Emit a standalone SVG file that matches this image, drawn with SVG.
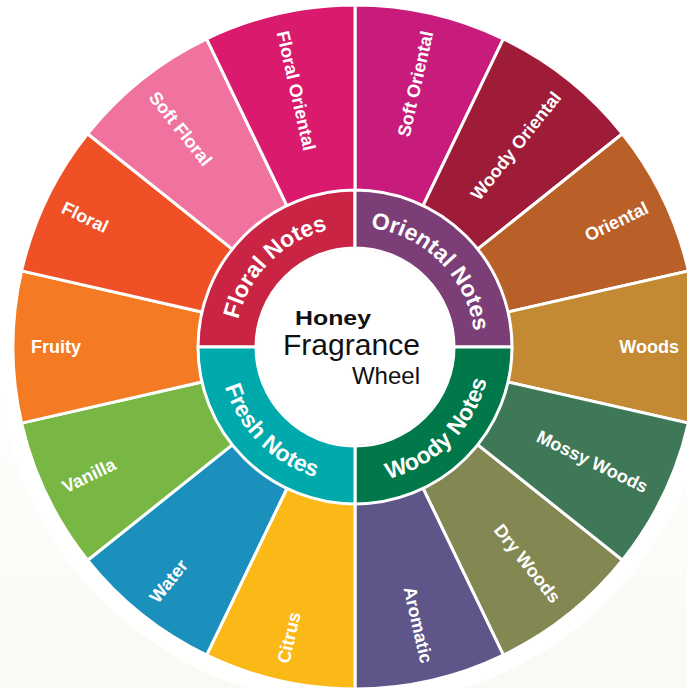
<svg xmlns="http://www.w3.org/2000/svg" width="687" height="688" viewBox="0 0 687 688">
  <defs>
    <linearGradient id="bg" x1="0" y1="0" x2="0" y2="1">
      <stop offset="0" stop-color="#ffffff"/>
      <stop offset="0.5" stop-color="#ffffff"/>
      <stop offset="1" stop-color="#fbf9f3"/>
    </linearGradient>
    <path id="pFloral" d="M235,347 A120,120 0 0 1 355,227"/>
    <path id="pOriental" d="M355,227 A120,120 0 0 1 475,347"/>
    <path id="pWoody" d="M355,483 A136,136 0 0 0 491,347"/>
    <path id="pFresh" d="M219,347 A136,136 0 0 0 355,483"/>
  </defs>
  <style>
    .seg { stroke: #ffffff; stroke-width: 3; stroke-linejoin: round; }
    .ring { stroke: #ffffff; stroke-width: 3; stroke-linejoin: round; }
    .lbl { font-family: "Liberation Sans", Arial, Helvetica, sans-serif; font-weight: bold; font-size: 18px; fill: #ffffff; }
    .note { font-family: "Liberation Sans", Arial, Helvetica, sans-serif; font-weight: bold; font-size: 23px; fill: #ffffff; }
    .ctr { font-family: "Liberation Sans", Arial, Helvetica, sans-serif; fill: #111111; }
  </style>
  <rect x="0" y="0" width="687" height="688" fill="url(#bg)"/>
  <circle cx="355" cy="347" r="358" fill="#ffffff"/>

  <g id="segments">
    <g id="soft-oriental">
      <path class="seg" fill="#c81c7c" d="M355,347 L355,5 A342,342 0 0 1 503.39,38.87 Z"/>
      <text class="lbl" transform="translate(355,347) rotate(-77.143)" x="324" y="0" dy="0.36em" text-anchor="end">Soft Oriental</text>
    </g>
    <g id="woody-oriental">
      <path class="seg" fill="#9e1c37" d="M355,347 L503.39,38.87 A342,342 0 0 1 622.39,133.77 Z"/>
      <text class="lbl" transform="translate(355,347) rotate(-51.429)" x="324" y="0" dy="0.36em" text-anchor="end">Woody Oriental</text>
    </g>
    <g id="oriental">
      <path class="seg" fill="#b95f28" d="M355,347 L622.39,133.77 A342,342 0 0 1 688.43,270.90 Z"/>
      <text class="lbl" transform="translate(355,347) rotate(-25.714)" x="324" y="0" dy="0.36em" text-anchor="end">Oriental</text>
    </g>
    <g id="woods">
      <path class="seg" fill="#c48a33" d="M355,347 L688.43,270.90 A342,342 0 0 1 688.43,423.10 Z"/>
      <text class="lbl" transform="translate(355,347) rotate(0)" x="324" y="0" dy="0.36em" text-anchor="end">Woods</text>
    </g>
    <g id="mossy-woods">
      <path class="seg" fill="#3f7856" d="M355,347 L688.43,423.10 A342,342 0 0 1 622.39,560.23 Z"/>
      <text class="lbl" transform="translate(355,347) rotate(25.714)" x="324" y="0" dy="0.36em" text-anchor="end">Mossy Woods</text>
    </g>
    <g id="dry-woods">
      <path class="seg" fill="#838852" d="M355,347 L622.39,560.23 A342,342 0 0 1 503.39,655.13 Z"/>
      <text class="lbl" transform="translate(355,347) rotate(51.429)" x="324" y="0" dy="0.36em" text-anchor="end">Dry Woods</text>
    </g>
    <g id="aromatic">
      <path class="seg" fill="#5e5689" d="M355,347 L503.39,655.13 A342,342 0 0 1 355,689 Z"/>
      <text class="lbl" transform="translate(355,347) rotate(77.143)" x="324" y="0" dy="0.36em" text-anchor="end">Aromatic</text>
    </g>
    <g id="citrus">
      <path class="seg" fill="#fbb918" d="M355,347 L355,689 A342,342 0 0 1 206.61,655.13 Z"/>
      <text class="lbl" transform="translate(355,347) rotate(-77.143)" x="-324" y="0" dy="0.36em" text-anchor="start">Citrus</text>
    </g>
    <g id="water">
      <path class="seg" fill="#1c90bc" d="M355,347 L206.61,655.13 A342,342 0 0 1 87.61,560.23 Z"/>
      <text class="lbl" transform="translate(355,347) rotate(-51.429)" x="-324" y="0" dy="0.36em" text-anchor="start">Water</text>
    </g>
    <g id="vanilla">
      <path class="seg" fill="#78b744" d="M355,347 L87.61,560.23 A342,342 0 0 1 21.57,423.10 Z"/>
      <text class="lbl" transform="translate(355,347) rotate(-25.714)" x="-324" y="0" dy="0.36em" text-anchor="start">Vanilla</text>
    </g>
    <g id="fruity">
      <path class="seg" fill="#f47b23" d="M355,347 L21.57,423.10 A342,342 0 0 1 21.57,270.90 Z"/>
      <text class="lbl" transform="translate(355,347) rotate(0)" x="-324" y="0" dy="0.36em" text-anchor="start">Fruity</text>
    </g>
    <g id="floral">
      <path class="seg" fill="#ef5025" d="M355,347 L21.57,270.90 A342,342 0 0 1 87.61,133.77 Z"/>
      <text class="lbl" transform="translate(355,347) rotate(25.714)" x="-324" y="0" dy="0.36em" text-anchor="start">Floral</text>
    </g>
    <g id="soft-floral">
      <path class="seg" fill="#f0729e" d="M355,347 L87.61,133.77 A342,342 0 0 1 206.61,38.87 Z"/>
      <text class="lbl" transform="translate(355,347) rotate(51.429)" x="-324" y="0" dy="0.36em" text-anchor="start">Soft Floral</text>
    </g>
    <g id="floral-oriental">
      <path class="seg" fill="#da1a6d" d="M355,347 L206.61,38.87 A342,342 0 0 1 355,5 Z"/>
      <text class="lbl" transform="translate(355,347) rotate(77.143)" x="-324" y="0" dy="0.36em" text-anchor="start">Floral Oriental</text>
    </g>
  </g>

  <g id="notes">
    <g id="floral-notes">
      <path class="ring" fill="#c92444" d="M198,347 A157,157 0 0 1 355,190 L355,248 A99,99 0 0 0 256,347 Z"/>
      <text class="note"><textPath href="#pFloral" startOffset="50%" text-anchor="middle">Floral Notes</textPath></text>
    </g>
    <g id="oriental-notes">
      <path class="ring" fill="#7c3e76" d="M355,190 A157,157 0 0 1 512,347 L454,347 A99,99 0 0 0 355,248 Z"/>
      <text class="note"><textPath href="#pOriental" startOffset="50%" text-anchor="middle">Oriental Notes</textPath></text>
    </g>
    <g id="woody-notes">
      <path class="ring" fill="#00784a" d="M512,347 A157,157 0 0 1 355,504 L355,446 A99,99 0 0 0 454,347 Z"/>
      <text class="note"><textPath href="#pWoody" startOffset="50%" text-anchor="middle">Woody Notes</textPath></text>
    </g>
    <g id="fresh-notes">
      <path class="ring" fill="#00a9ac" d="M355,504 A157,157 0 0 1 198,347 L256,347 A99,99 0 0 0 355,446 Z"/>
      <text class="note"><textPath href="#pFresh" startOffset="50%" text-anchor="middle">Fresh Notes</textPath></text>
    </g>
  </g>

  <g id="center">
    <circle cx="355" cy="347" r="98" fill="#ffffff"/>
    <text class="ctr" x="295" y="325" font-size="21" font-weight="bold" textLength="76" lengthAdjust="spacingAndGlyphs" fill="#000000">Honey</text>
    <text class="ctr" x="283" y="355" font-size="30" textLength="137" lengthAdjust="spacingAndGlyphs">Fragrance</text>
    <text class="ctr" x="420" y="384" font-size="24" text-anchor="end">Wheel</text>
  </g>
</svg>
